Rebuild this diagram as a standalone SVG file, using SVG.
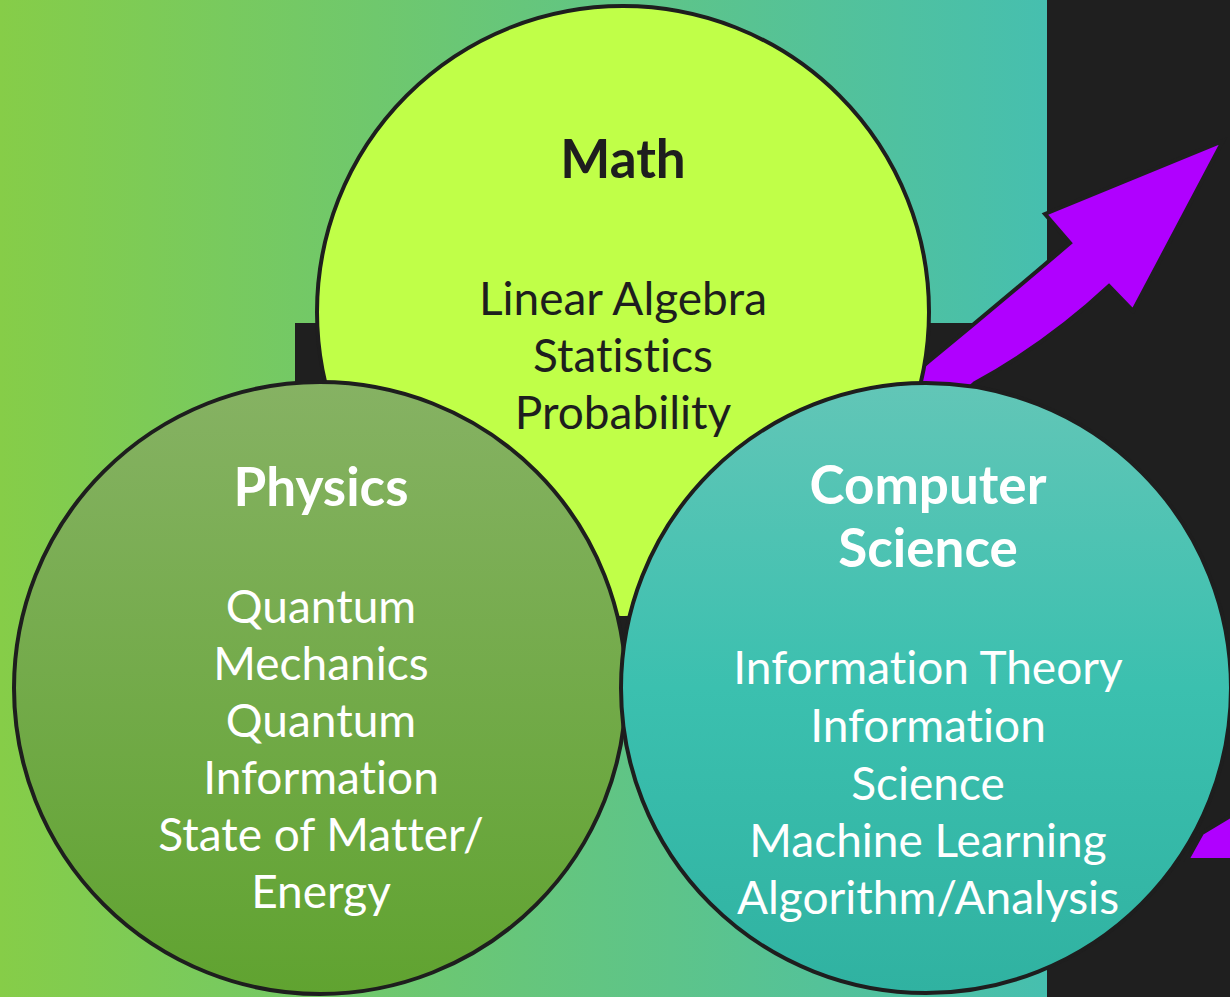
<svg xmlns="http://www.w3.org/2000/svg" width="1230" height="997" viewBox="0 0 1230 997">
<style>
.ring{stroke:#1e1e1e;stroke-width:4}
text{font-variant-ligatures:none;font-feature-settings:"liga" 0,"clig" 0}
.h{font-family:Lato,"Noto Sans",sans-serif;font-weight:700;font-size:53px;text-anchor:middle}
.b{font-family:Lato,"Noto Sans",sans-serif;font-weight:400;font-size:46px;text-anchor:middle}
.dark{fill:#1e1e1e}
.light{fill:#ffffff}
.arrow{fill:#b000ff;stroke:#1f1f1f;stroke-width:4;stroke-linejoin:miter}
</style>
<defs>
<linearGradient id="bg" x1="0" y1="0" x2="1" y2="0">
<stop offset="0" stop-color="#86cd48"/>
<stop offset="1" stop-color="#46bfaf"/>
</linearGradient>
<linearGradient id="gPhys" x1="0" y1="0" x2="0" y2="1">
<stop offset="0" stop-color="#86b263"/>
<stop offset="1" stop-color="#60a330"/>
</linearGradient>
<linearGradient id="gCS" x1="0" y1="0" x2="0" y2="1">
<stop offset="0" stop-color="#62c6b7"/>
<stop offset="0.5" stop-color="#3bc0af"/>
<stop offset="1" stop-color="#30b2a1"/>
</linearGradient>
</defs>
<rect x="0" y="0" width="1230" height="997" fill="#1f1f1f"/>
<rect x="0" y="0" width="1047" height="997" fill="url(#bg)"/>
<rect x="295" y="323" width="752" height="400" fill="#1f1f1f"/>
<g id="connectors">
<path class="arrow" d="M 890,395 L 928,362 Q 1000,303 1070,243 L 1045,214 L 1223,141 L 1133,311 L 1109,286 Q 1048,343 975,383 L 945,410 Z"/>
<path class="arrow" stroke="none" d="M 1202,833 L 1232,815 L 1232,860 L 1187,860 Z"/>
</g>
<g id="math">
<circle class="ring" cx="623" cy="312" r="306" fill="#c0ff48"/>
<text class="h dark" x="623" y="178">Math</text>
<text class="b dark" x="623" y="315">Linear Algebra</text>
<text class="b dark" x="623" y="372">Statistics</text>
<text class="b dark" x="623" y="429">Probability</text>
</g>
<g id="physics">
<circle class="ring" cx="320" cy="688" r="306" fill="url(#gPhys)"/>
<text class="h light" x="321" y="506">Physics</text>
<text class="b light" x="321" y="623">Quantum</text>
<text class="b light" x="321" y="680">Mechanics</text>
<text class="b light" x="321" y="737">Quantum</text>
<text class="b light" x="321" y="794">Information</text>
<text class="b light" x="321" y="851">State of Matter/</text>
<text class="b light" x="321" y="908">Energy</text>
</g>
<g id="cs">
<circle class="ring" cx="926" cy="688" r="305" fill="url(#gCS)"/>
<text class="h light" x="928" y="504">Computer</text>
<text class="h light" x="928" y="567">Science</text>
<text class="b light" x="928" y="684">Information Theory</text>
<text class="b light" x="928" y="742">Information</text>
<text class="b light" x="928" y="800">Science</text>
<text class="b light" x="928" y="857">Machine Learning</text>
<text class="b light" x="928" y="914">Algorithm/Analysis</text>
</g>
</svg>
